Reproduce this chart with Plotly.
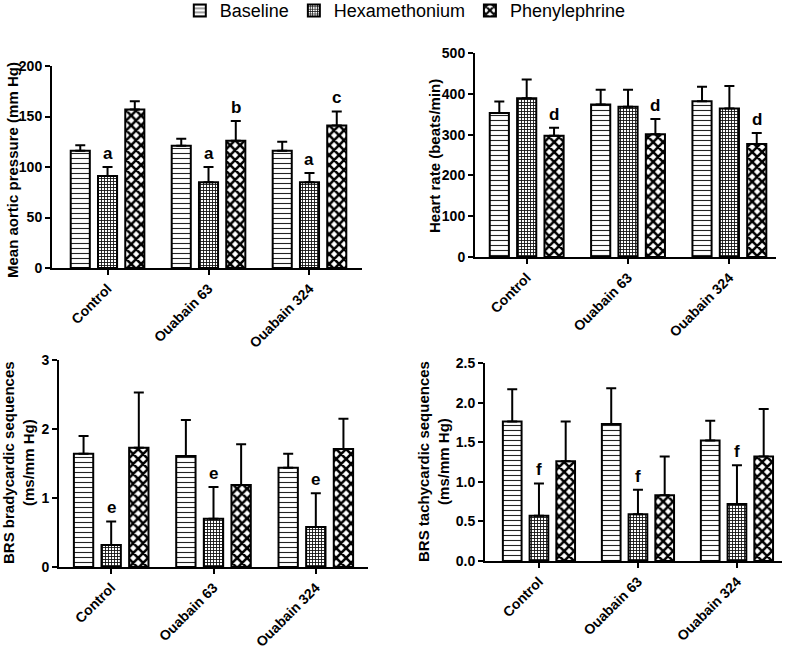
import plotly.graph_objects as go

categories = ["Control", "Ouabain 63", "Ouabain 324"]
series_names = ["Baseline", "Hexamethonium", "Phenylephrine"]

# Panel A: mean aortic pressure (mm Hg)
map_baseline = [116, 121, 116]
map_baseline_err = [5.5, 7, 9]
map_hexa = [91, 85, 85]
map_hexa_err = [9, 15, 9]
map_phenyl = [157, 126, 141]
map_phenyl_err = [8, 19.5, 14]
map_letters = [["", "", ""], ["a", "a", "a"], ["", "b", "c"]]

# Panel B: heart rate (beats/min)
hr_baseline = [353, 374, 382]
hr_baseline_err = [28, 36, 35]
hr_hexa = [389, 368, 364]
hr_hexa_err = [46, 42, 55]
hr_phenyl = [297, 301, 277]
hr_phenyl_err = [20, 37, 27]
hr_letters = [["", "", ""], ["", "", ""], ["d", "d", "d"]]

# Panel C: BRS bradycardic sequences (ms/mm Hg)
brady_baseline = [1.64, 1.61, 1.44]
brady_baseline_err = [0.26, 0.52, 0.20]
brady_hexa = [0.32, 0.70, 0.58]
brady_hexa_err = [0.34, 0.46, 0.49]
brady_phenyl = [1.73, 1.19, 1.71]
brady_phenyl_err = [0.80, 0.59, 0.44]
brady_letters = [["", "", ""], ["e", "e", "e"], ["", "", ""]]

# Panel D: BRS tachycardic sequences (ms/mm Hg)
tachy_baseline = [1.76, 1.73, 1.52]
tachy_baseline_err = [0.41, 0.45, 0.25]
tachy_hexa = [0.57, 0.59, 0.72]
tachy_hexa_err = [0.41, 0.31, 0.49]
tachy_phenyl = [1.26, 0.83, 1.32]
tachy_phenyl_err = [0.50, 0.49, 0.60]
tachy_letters = [["", "", ""], ["f", "f", "f"], ["", "", ""]]

W, H = 787, 651
FONT = "Liberation Sans, Arial, sans-serif"

patterns = [
    dict(shape="-", size=5, solidity=0.22, fgcolor="#222", bgcolor="white"),
    dict(shape="+", size=3, solidity=0.5, fgcolor="#111", bgcolor="white"),
    dict(shape="x", size=7, solidity=0.6, fgcolor="black", bgcolor="white"),
]

panels = [
    dict(vals=[map_baseline, map_hexa, map_phenyl],
         errs=[map_baseline_err, map_hexa_err, map_phenyl_err],
         letters=map_letters, yrange=[0, 200], dtick=50, fmt="",
         px=(52, 362), py=(66, 268), xr=[-0.55, 2.52],
         title="Mean aortic pressure (mm Hg)", tpos=(12, 170)),
    dict(vals=[hr_baseline, hr_hexa, hr_phenyl],
         errs=[hr_baseline_err, hr_hexa_err, hr_phenyl_err],
         letters=hr_letters, yrange=[0, 500], dtick=100, fmt="",
         px=(475, 776), py=(53, 257), xr=[-0.51, 2.46],
         title="Heart rate (beats/min)", tpos=(435, 156)),
    dict(vals=[brady_baseline, brady_hexa, brady_phenyl],
         errs=[brady_baseline_err, brady_hexa_err, brady_phenyl_err],
         letters=brady_letters, yrange=[0, 3], dtick=1, fmt="",
         px=(59, 368), py=(360, 567), xr=[-0.51, 2.51],
         title="BRS bradycardic sequences<br>(ms/mm Hg)", tpos=(19, 463)),
    dict(vals=[tachy_baseline, tachy_hexa, tachy_phenyl],
         errs=[tachy_baseline_err, tachy_hexa_err, tachy_phenyl_err],
         letters=tachy_letters, yrange=[0, 2.5], dtick=0.5, fmt=".1f",
         px=(485, 782), py=(363, 561), xr=[-0.545, 2.455],
         title="BRS tachycardic sequences<br>(ms/mm Hg)", tpos=(433, 462)),
]

BARGAP = 0.19
slot = (1 - BARGAP) / 3

fig = go.Figure()
annotations = []

for p_i, p in enumerate(panels):
    sfx = "" if p_i == 0 else str(p_i + 1)
    xa, ya = "x" + sfx, "y" + sfx
    for s_i, name in enumerate(series_names):
        fig.add_trace(go.Bar(
            x=categories, y=p["vals"][s_i], name=name,
            xaxis=xa, yaxis=ya, showlegend=(p_i == 0),
            marker=dict(color="white", line=dict(color="black", width=2),
                        pattern=patterns[s_i]),
            error_y=dict(type="data", array=p["errs"][s_i],
                         arrayminus=[0] * len(categories), symmetric=False,
                         color="black", thickness=2, width=5),
        ))
        for c_i in range(len(categories)):
            letter = p["letters"][s_i][c_i]
            if letter:
                annotations.append(dict(
                    x=c_i + (s_i - 1) * slot, y=p["vals"][s_i][c_i] + p["errs"][s_i][c_i],
                    xref=xa, yref=ya, text="<b>%s</b>" % letter, showarrow=False,
                    yanchor="bottom", yshift=2,
                    font=dict(family=FONT, size=17, color="black")))
    annotations.append(dict(
        x=p["tpos"][0] / W, y=1 - p["tpos"][1] / H, xref="paper", yref="paper",
        text="<b>%s</b>" % p["title"], textangle=-90, showarrow=False,
        xanchor="center", yanchor="middle",
        font=dict(family=FONT, size=15, color="black")))
    axis_common = dict(showline=True, linecolor="black", linewidth=2,
                       ticks="outside", ticklen=5, tickwidth=2, tickcolor="black",
                       showgrid=False, zeroline=False, automargin=False)
    fig.layout["xaxis" + sfx] = dict(
        domain=[p["px"][0] / W, p["px"][1] / W], anchor=ya, range=p["xr"],
        tickangle=-45, type="category",
        tickfont=dict(family=FONT, size=14, color="black", weight="bold"),
        **axis_common)
    fig.layout["yaxis" + sfx] = dict(
        domain=[1 - p["py"][1] / H, 1 - p["py"][0] / H], anchor=xa,
        range=p["yrange"], dtick=p["dtick"], tickformat=p["fmt"],
        tickfont=dict(family=FONT, size=14, color="black", weight="bold"),
        **axis_common)

fig.update_layout(
    template="none",
    width=W, height=H, margin=dict(l=0, r=0, t=0, b=0, autoexpand=False),
    paper_bgcolor="white", plot_bgcolor="white",
    barmode="group", bargap=BARGAP, bargroupgap=0.3,
    font=dict(family=FONT, color="black"),
    legend=dict(orientation="h", x=0.515, xanchor="center", y=1.012, yanchor="top",
                font=dict(family=FONT, size=18, color="black"),
                itemwidth=30, tracegroupgap=0),
    annotations=annotations,
)

fig.write_html("out.html", config={"displayModeBar": False},
               post_script="document.body.style.margin='0';document.body.style.overflow='hidden';")
